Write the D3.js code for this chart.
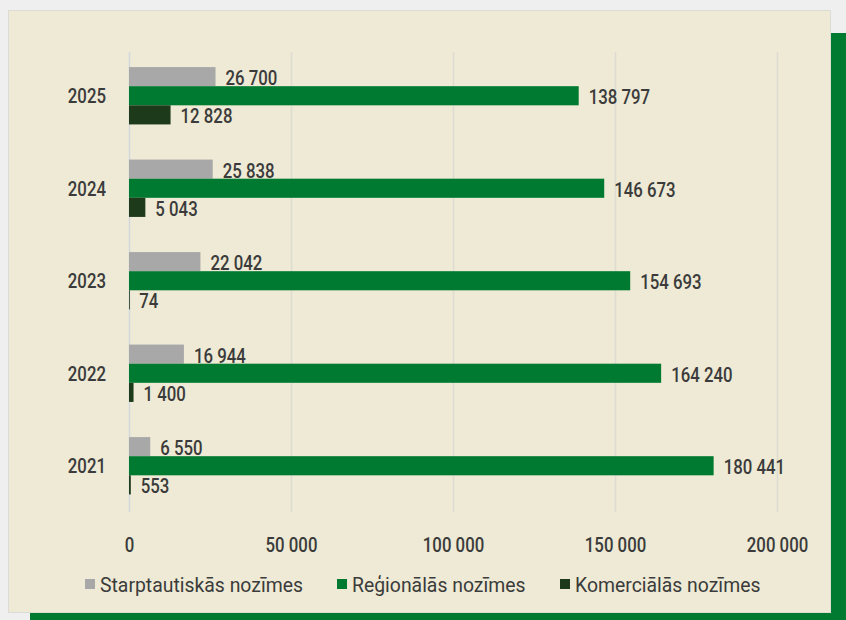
<!DOCTYPE html>
<html><head><meta charset="utf-8">
<script src="https://cdn.jsdelivr.net/npm/d3@7"></script>
<style>
html,body{margin:0;padding:0;background:#efefef;}
svg{display:block;}
text{font-family:Roboto,"Noto Sans",sans-serif;fill:#3b3b3b;}
</style></head>
<body>
<svg id="c" width="846" height="620"></svg>
<script>
const years = ["2025","2024","2023","2022","2021"];
const seriesNames = ["Starptautiskās nozīmes","Reģionālās nozīmes","Komerciālās nozīmes"];
const starptautiskas = [26700, 25838, 22042, 16944, 6550];
const regionalas = [138797, 146673, 154693, 164240, 180441];
const komercialas = [12828, 5043, 74, 1400, 553];
const tickValues = [0, 50000, 100000, 150000, 200000];
const colors = ["#a8a8a8", "#007a30", "#1d3a1b"];

const seriesValues = [starptautiskas, regionalas, komercialas];
const svg = d3.select("#c");
const NUM_SX = 0.8;   // horizontal squeeze to mimic the condensed face
const NUM_FS = 21;

svg.append("rect").attr("x",30).attr("y",33).attr("width",830).attr("height",600).attr("fill","#007a30");
svg.append("rect").attr("x",8.5).attr("y",10.5).attr("width",822).attr("height",602)
  .attr("fill","#eeead5").attr("stroke","#dcdcd6").attr("stroke-width",1);

const loc = d3.formatLocale({decimal:",", thousands:"\u00a0", grouping:[3], currency:["",""]});
const fmt = loc.format(",d");

const x = d3.scaleLinear().domain([0,200000]).range([129,777]);
const y0 = d3.scaleBand().domain(years).range([49.5,512]).paddingInner(0.38).paddingOuter(0.19);
const y1 = d3.scaleBand().domain(d3.range(3)).range([0,y0.bandwidth()]);

svg.append("g").selectAll("line").data(tickValues).join("line")
  .attr("x1",d=>x(d)+0.5).attr("x2",d=>x(d)+0.5).attr("y1",52).attr("y2",512)
  .attr("stroke",(d,i)=>i===0?"#d3d8de":"#dddbd2").attr("stroke-width",1.5);

const xAxis = d3.axisBottom(x).tickValues(tickValues).tickFormat(fmt).tickSize(0).tickPadding(0);
const ax = svg.append("g").attr("transform","translate(0,0)").call(xAxis);
ax.select(".domain").remove();
ax.selectAll("text")
  .attr("y",null).attr("dy",null)
  .attr("font-size",NUM_FS).attr("fill","#3b3b3b").attr("font-weight",500)
  .style("font-family","Roboto,sans-serif")
  .attr("transform",`translate(0,551.5) scale(${NUM_SX},1)`);

const groups = svg.append("g").selectAll("g").data(years).join("g")
  .attr("transform",d=>`translate(0,${y0(d)})`);

groups.each(function(yr, yi){
  const g = d3.select(this);
  const vals = seriesValues.map(s=>s[yi]);
  g.selectAll("rect").data(vals).join("rect")
    .attr("x",x(0)).attr("y",(d,i)=>y1(i))
    .attr("width",d=>Math.max(x(d)-x(0),0.8)).attr("height",y1.bandwidth())
    .attr("fill",(d,i)=>colors[i]);
  g.selectAll("text.v").data(vals).join("text").attr("class","v")
    .attr("transform",(d,i)=>`translate(${x(d)+10},${y1(i)+y1.bandwidth()/2+8.5}) scale(${NUM_SX},1)`)
    .attr("font-size",NUM_FS).attr("font-weight",500)
    .text(d=>fmt(d));
});

svg.append("g").selectAll("text").data(years).join("text")
  .attr("transform",d=>`translate(106,${y0(d)+y0.bandwidth()/2+7.5}) scale(${NUM_SX},1)`)
  .attr("text-anchor","end").attr("font-size",NUM_FS).attr("font-weight",500)
  .text(d=>d);

const legendX = [85, 337, 560];
const lg = svg.append("g").selectAll("g").data(seriesNames).join("g")
  .attr("transform",(d,i)=>`translate(${legendX[i]},0)`);
lg.append("rect").attr("x",0).attr("y",579).attr("width",10).attr("height",10).attr("fill",(d,i)=>colors[i]);
lg.append("text").attr("transform","translate(15,591.5) scale(0.97,1)").attr("font-size",20).text(d=>d);
</script>
</body></html>
